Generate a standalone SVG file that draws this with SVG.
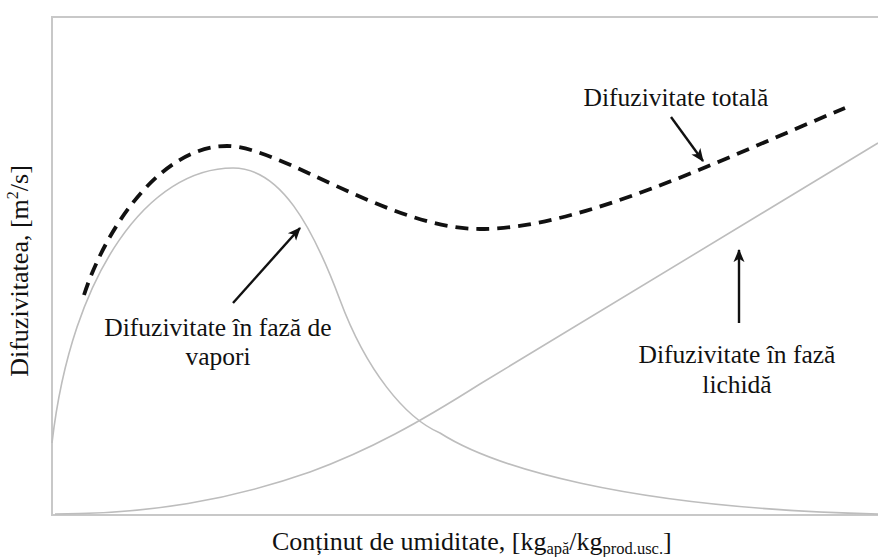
<svg xmlns="http://www.w3.org/2000/svg" width="878" height="557" viewBox="0 0 878 557">
<defs>
<marker id="ah" viewBox="0 0 12 10" refX="11" refY="5" markerWidth="5.5" markerHeight="5.5" orient="auto" markerUnits="strokeWidth">
<path d="M0,0 L12,5 L0,10 L3,5 Z" fill="#111"/>
</marker>
</defs>
<style>
.frame{fill:none;stroke:#c8c8c8;stroke-width:2}
.curve{fill:none;stroke:#bdbdbd;stroke-width:1.6}
.total{fill:none;stroke:#111;stroke-width:3.8;stroke-dasharray:13 8}
.arrow{fill:none;stroke:#111;stroke-width:2.4;marker-end:url(#ah)}
.t{font-size:25.5px;fill:#111}
.ax{font-size:26px;fill:#111}
.c{text-anchor:middle}
</style>
<rect width="878" height="557" fill="#fff"/>
<g id="axes" font-family="Liberation Serif, Tinos, DejaVu Serif, serif">
<rect class="frame" x="52" y="17" width="840" height="498"/>
<text id="ylabel" class="ax c" transform="translate(28,271) rotate(-90)">Difuzivitatea, [m<tspan font-size="16" dy="-10">2</tspan><tspan dy="10">/s]</tspan></text>
<text id="xlabel" class="ax" x="272" y="550">Conținut de umiditate, [kg<tspan font-size="16.5" dy="4">apă</tspan><tspan dy="-4">/kg</tspan><tspan font-size="16.5" dy="4">prod.usc.</tspan><tspan dy="-4">]</tspan></text>
</g>
<g id="vapor-curve">
<path class="curve" d="M52,443 C72,270 150,168 233,168 C280,168 312,225 340,300 C366,370 405,418 440,433 C490,465 620,508 878,514"/>
</g>
<g id="liquid-curve">
<path class="curve" d="M55,514 C150,514 230,500 310,472 C370,450 420,422 480,384 L878,143"/>
</g>
<g id="total-curve">
<path class="total" d="M84,295 C105,230 160,146 227,146 C280,146 390,229 480,229 C580,229 720,160 845,108"/>
</g>
<g id="label-total" font-family="Liberation Serif, Tinos, DejaVu Serif, serif">
<text class="t c" x="676" y="106">Difuzivitate totală</text>
</g>
<g id="label-vapor" font-family="Liberation Serif, Tinos, DejaVu Serif, serif">
<text class="t c" x="218" y="336">Difuzivitate în fază de</text>
<text class="t c" x="218" y="365">vapori</text>
</g>
<g id="label-liquid" font-family="Liberation Serif, Tinos, DejaVu Serif, serif">
<text class="t c" x="737" y="363">Difuzivitate în fază</text>
<text class="t c" x="737" y="393">lichidă</text>
</g>
<g id="connectors">
<line class="arrow" x1="233" y1="303" x2="300" y2="228"/>
<line class="arrow" x1="671" y1="117" x2="703" y2="161"/>
<line class="arrow" x1="739" y1="323" x2="739" y2="250"/>
</g>
</svg>
